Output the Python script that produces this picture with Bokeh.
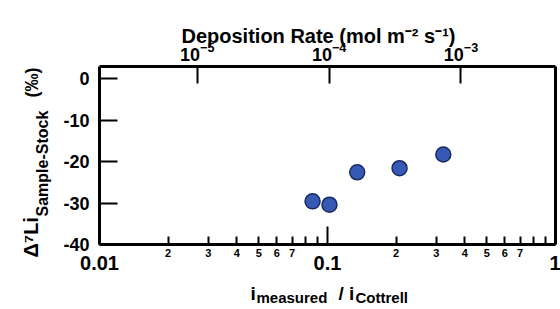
from bokeh.plotting import figure
from bokeh.models import Range1d, LogAxis, LinearAxis, FixedTicker, Label, LogScale
from bokeh.embed import file_html
from bokeh.resources import INLINE
import math

# ---- data ----
ratio = [0.086, 0.102, 0.135, 0.207, 0.322]          # i_measured / i_Cottrell
delta_li = [-29.6, -30.4, -22.6, -21.6, -18.3]        # Δ7Li sample-stock (‰)

x_major = [0.01, 0.1, 1.0]
x_major_labels = ["0.01", "0.1", "1"]
x_minor = [0.02, 0.03, 0.04, 0.05, 0.06, 0.07, 0.08, 0.09,
           0.2, 0.3, 0.4, 0.5, 0.6, 0.7, 0.8, 0.9]
x_minor_lab_pos = [0.02, 0.03, 0.04, 0.05, 0.06, 0.07,
                   0.2, 0.3, 0.4, 0.5, 0.6, 0.7]
x_minor_labels = ["2", "3", "4", "5", "6", "7",
                  "2", "3", "4", "5", "6", "7"]
y_ticks = [0, -10, -20, -30, -40]
y_tick_labels = ["0", "-10", "-20", "-30", "-40"]
top_ticks = [1e-5, 1e-4, 1e-3]

# ---- layout parameters ----
W, H = 560, 309
box_x = (0.01, 1.0)          # plot box in data units
box_y = (-40.0, 2.9)
x_view_log = (-2.4342, 0.02193)   # visible log10 range across the canvas
y_view = (-55.66, 18.80)
# top axis (deposition rate) is a log-linear transform of the bottom axis
top_a, top_b = -2.2835, 1.7286
def to_top(v_log):
    return 10 ** (top_a + top_b * v_log)

FONT = "Liberation Sans"

p = figure(width=W, height=H, x_axis_type="log",
           x_range=Range1d(10 ** x_view_log[0], 10 ** x_view_log[1]),
           y_range=Range1d(*y_view),
           output_backend="svg", toolbar_location=None,
           min_border=0, min_border_left=0, min_border_right=0,
           min_border_top=0, min_border_bottom=0)
p.xgrid.visible = False
p.ygrid.visible = False
p.outline_line_color = None
p.background_fill_color = "white"
p.border_fill_color = "white"

# main bottom axis: line + ticks
xa = p.xaxis[0]
xa.fixed_location = box_y[0]
xa.bounds = box_x
xa.ticker = FixedTicker(ticks=x_major, minor_ticks=x_minor)
xa.major_tick_in = 18
xa.major_tick_out = 0
xa.minor_tick_in = 8
xa.minor_tick_out = 0
xa.major_tick_line_width = 2
xa.minor_tick_line_width = 2
xa.major_tick_line_color = "black"
xa.minor_tick_line_color = "black"
xa.axis_line_width = 3
xa.axis_line_color = "black"
xa.major_label_text_font_size = "1px"
xa.major_label_text_alpha = 0.0

common_lab = dict(major_tick_in=0, major_tick_out=0, minor_tick_in=0, minor_tick_out=0,
                  axis_line_color=None, fixed_location=box_y[0],
                  major_label_text_font=FONT, major_label_text_font_style="bold",
                  major_label_text_color="black")
# minor labels
xb = LogAxis(ticker=FixedTicker(ticks=x_minor_lab_pos, minor_ticks=[]),
             major_label_overrides={v: s for v, s in zip(x_minor_lab_pos, x_minor_labels)},
             major_label_standoff=4, major_label_text_font_size="11px", **common_lab)
p.add_layout(xb, "below")
# major labels
xc = LogAxis(ticker=FixedTicker(ticks=x_major, minor_ticks=[]),
             major_label_overrides={v: s for v, s in zip(x_major, x_major_labels)},
             major_label_standoff=11, major_label_text_font_size="20px", **common_lab)
p.add_layout(xc, "below")

# top axis
p.extra_x_ranges = {"top": Range1d(to_top(x_view_log[0]), to_top(x_view_log[1]))}
p.extra_x_scales = {"top": LogScale()}
xt = LogAxis(x_range_name="top", ticker=FixedTicker(ticks=top_ticks, minor_ticks=[]),
             fixed_location=box_y[1],
             bounds=(to_top(math.log10(box_x[0])), to_top(math.log10(box_x[1]))),
             major_tick_in=17, major_tick_out=0, minor_tick_in=0, minor_tick_out=0,
             major_tick_line_width=2, major_tick_line_color="black",
             axis_line_width=3, axis_line_color="black", major_label_standoff=5,
             major_label_text_font=FONT, major_label_text_font_style="bold",
             major_label_text_font_size="18px", major_label_text_color="black")
p.add_layout(xt, "above")

# left axis
ya = p.yaxis[0]
ya.fixed_location = box_x[0]
ya.bounds = box_y
ya.ticker = FixedTicker(ticks=y_ticks, minor_ticks=[])
ya.major_label_overrides = {v: s for v, s in zip(y_ticks, y_tick_labels)}
ya.major_tick_in = 18
ya.major_tick_out = 0
ya.minor_tick_in = 0
ya.minor_tick_out = 0
ya.major_tick_line_width = 2
ya.major_tick_line_color = "black"
ya.axis_line_width = 3
ya.axis_line_color = "black"
ya.major_label_standoff = 10
ya.major_label_text_font = FONT
ya.major_label_text_font_style = "bold"
ya.major_label_text_font_size = "18px"
ya.major_label_text_color = "black"

# right frame line
yr = LinearAxis(fixed_location=box_x[1], bounds=box_y,
                ticker=FixedTicker(ticks=[], minor_ticks=[]),
                major_tick_in=0, major_tick_out=0, minor_tick_in=0, minor_tick_out=0,
                axis_line_width=3, axis_line_color="black",
                major_label_text_font_size="1px", major_label_text_alpha=0.0)
p.add_layout(yr, "right")

# data
p.scatter(ratio, delta_li, size=15, fill_color="#3559b4", line_color="#1b2a5e",
          line_width=1.5)

def lab(px, py, t, size, angle=0.0, align="left"):
    # px, py: position on the picture, measured from its top-left corner
    p.add_layout(Label(x=px, y=H - py, x_units="screen", y_units="screen", text=t,
                       angle=angle, text_align=align, text_baseline="alphabetic",
                       text_font=FONT, text_font_style="bold",
                       text_font_size=size, text_color="black"))

# top title
lab(318, 35, "Deposition Rate (mol m\u207b\u00b2 s\u207b\u00b9)", "20px", align="center")
# y title
lab(30, 257, "\u0394\u2077Li", "20px", angle=math.pi / 2)
lab(42, 216, "Sample-Stock", "16px", angle=math.pi / 2)
lab(31, 97, "(\u2030)", "18px", angle=math.pi / 2)
# x title
lab(250, 293, "i", "19px")
lab(256, 297, "measured", "15px")
lab(338, 293, "/ i", "19px")
lab(355, 297, "Cottrell", "15px")

open("out.html", "w").write(file_html(p, INLINE))
